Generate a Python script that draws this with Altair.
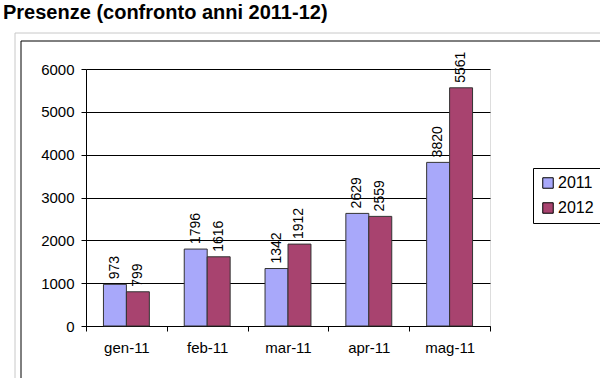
import altair as alt
import pandas as pd

categories = ["gen-11", "feb-11", "mar-11", "apr-11", "mag-11"]
years = ["2011", "2012"]
values_2011 = [973, 1796, 1342, 2629, 3820]
values_2012 = [799, 1616, 1912, 2559, 5561]
y_ticks = [0, 1000, 2000, 3000, 4000, 5000, 6000]

rows = []
for c, a, b in zip(categories, values_2011, values_2012):
    rows.append({"mese": c, "anno": "2011", "valore": a})
    rows.append({"mese": c, "anno": "2012", "valore": b})
df = pd.DataFrame(rows)

FONT = "Liberation Sans"

x_enc = alt.X(
    "mese:N", sort=categories, title=None,
    scale=alt.Scale(paddingInner=0, paddingOuter=0),
    axis=alt.Axis(labelAngle=0, tickBand="extent", tickSize=5, tickColor="black",
                  domainColor="black", labelFont=FONT, labelFontSize=15,
                  labelColor="black", labelPadding=9, grid=False),
)
xo_enc = alt.XOffset("anno:N", sort=years,
                     scale=alt.Scale(paddingInner=0, paddingOuter=0.76))
y_enc = alt.Y(
    "valore:Q", title=None, scale=alt.Scale(domain=[0, 6000], nice=False),
    axis=alt.Axis(values=y_ticks, format="d", tickSize=5, tickColor="black",
                  domainColor="black", gridColor="black", gridOpacity=1, gridWidth=1,
                  labelFont=FONT, labelFontSize=15, labelColor="black", labelPadding=7),
)
color_enc = alt.Color(
    "anno:N", sort=years,
    scale=alt.Scale(domain=years, range=["#A8A8FA", "#A8436F"]),
    legend=alt.Legend(title=None, orient="none", legendX=447, legendY=99,
                      fillColor="white", strokeColor="black", padding=7,
                      symbolType="square", symbolSize=110, symbolStrokeColor="black",
                      symbolStrokeWidth=1, labelFont=FONT, labelFontSize=16,
                      labelColor="black", rowPadding=9, symbolOffset=0, labelOffset=2),
)

base = alt.Chart(df)
bars = base.mark_bar(stroke="#333333", strokeWidth=1).encode(
    x=x_enc, xOffset=xo_enc, y=y_enc, color=color_enc
)
labels = base.mark_text(angle=270, align="left", baseline="middle", dx=5,
                        font=FONT, fontSize=14, color="black").encode(
    x=x_enc, xOffset=xo_enc, y=y_enc, text=alt.Text("valore:Q", format="d")
)

frame_df = pd.DataFrame({"f": [0]})
frame_gray = alt.Chart(frame_df).mark_rect(filled=False, stroke="#C8C8C8", strokeWidth=1).encode(
    x=alt.value(-71), x2=alt.value(640), y=alt.value(-36), y2=alt.value(420)
)
frame_black = alt.Chart(frame_df).mark_rect(filled=False, stroke="black", strokeWidth=1).encode(
    x=alt.value(-65), x2=alt.value(640), y=alt.value(-28), y2=alt.value(420)
)

chart = alt.layer(frame_gray, frame_black, bars, labels).properties(
    width=404, height=257,
    padding={"left": 86, "top": 69, "right": 110, "bottom": 52},
    autosize=alt.AutoSizeParams(type="none"),
    title=alt.TitleParams("Presenze (confronto anni 2011-12)", anchor="start", frame="group",
                          dx=-83, dy=16, offset=6, font=FONT, fontSize=20,
                          fontWeight="bold", color="black", baseline="bottom"),
).configure_view(fill="#CCCCCC", stroke="#888888", strokeWidth=1).configure(background="white")

chart.save("out.html", embed_options={"renderer": "svg", "actions": False})
